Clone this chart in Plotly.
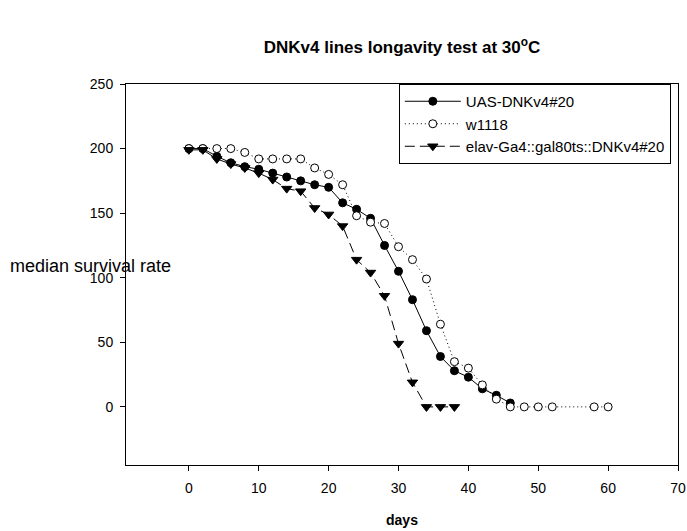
import plotly.graph_objects as go

# Data
days_uas = [0, 2, 4, 6, 8, 10, 12, 14, 16, 18, 20, 22, 24, 26, 28, 30, 32, 34, 36, 38, 40, 42, 44, 46]
uas = [200, 200, 194, 189, 186, 184, 181, 178, 175, 172, 170, 158, 153, 146, 125, 105, 83, 59, 39, 28, 23, 14, 9, 3]

days_w = [0, 2, 4, 6, 8, 10, 12, 14, 16, 18, 20, 22, 24, 26, 28, 30, 32, 34, 36, 38, 40, 42, 44, 46, 48, 50, 52, 58, 60]
w1118 = [200, 200, 200, 200, 197, 192, 192, 192, 192, 185, 180, 172, 148, 143, 142, 124, 114, 99, 64, 35, 30, 17, 6, 0, 0, 0, 0, 0, 0]

days_elav = [0, 2, 4, 6, 8, 10, 12, 14, 16, 18, 20, 22, 24, 26, 28, 30, 32, 34, 36, 38]
elav = [199, 199, 192, 188, 185, 181, 176, 169, 167, 154, 149, 140, 114, 104, 86, 49, 19, 0, 0, 0]

names = ["UAS-DNKv4#20", "w1118", "elav-Ga4::gal80ts::DNKv4#20"]
x_ticks = [0, 10, 20, 30, 40, 50, 60, 70]
y_ticks = [0, 50, 100, 150, 200, 250]

FONT = "Arial, Liberation Sans, sans-serif"

fig = go.Figure()
fig.add_trace(go.Scatter(
    x=days_uas, y=uas, name=names[0], mode="lines+markers",
    line=dict(color="black", width=1, dash="solid"),
    marker=dict(symbol="circle", size=8, color="black", line=dict(color="black", width=1)),
))
fig.add_trace(go.Scatter(
    x=days_w, y=w1118, name=names[1], mode="lines+markers",
    line=dict(color="black", width=1, dash="1px,3px"),
    marker=dict(symbol="circle", size=8, color="white", line=dict(color="black", width=1)),
))
fig.add_trace(go.Scatter(
    x=days_elav, y=elav, name=names[2], mode="lines+markers",
    line=dict(color="black", width=1, dash="10px,5px"),
    marker=dict(symbol="triangle-down", size=9, color="black", line=dict(color="black", width=1)),
))

fig.update_layout(
    width=687, height=531,
    margin=dict(l=126, r=9, t=84, b=66, autoexpand=False),
    paper_bgcolor="white", plot_bgcolor="white",
    font=dict(family=FONT, color="black", size=13),
    title=dict(text="<b>DNKv4 lines longavity test at 30<sup>o</sup>C</b>",
               x=0.5, xref="paper", xanchor="center", y=1 - 47 / 531, yanchor="middle",
               font=dict(size=17, family=FONT, color="black")),
    showlegend=True,
    legend=dict(x=0.987, xanchor="right", y=1, yanchor="top",
                bgcolor="white", bordercolor="black", borderwidth=1,
                font=dict(size=15, family=FONT, color="black"),
                tracegroupgap=0, itemwidth=56),
    xaxis=dict(range=[-9, 70], tickvals=x_ticks, ticks="outside", ticklen=5,
               tickcolor="black", showline=True, linecolor="black", linewidth=1,
               mirror=True, showgrid=False, zeroline=False, automargin=False,
               tickfont=dict(size=14, family=FONT), ticklabelstandoff=5,
               title=dict(text="<b>days</b>", font=dict(size=14, family=FONT), standoff=20)),
    yaxis=dict(range=[-45, 250], tickvals=y_ticks, ticks="outside", ticklen=5,
               tickcolor="black", showline=True, linecolor="black", linewidth=1,
               mirror=True, showgrid=False, zeroline=False, automargin=False,
               tickfont=dict(size=14, family=FONT), ticklabelstandoff=4),
    annotations=[dict(text="median survival rate", xref="paper", yref="paper",
                      x=-0.213, y=0.522, xanchor="left", yanchor="middle",
                      showarrow=False, font=dict(size=18, family=FONT, color="black"))],
)

fig.write_html("out.html", config={"displayModeBar": False},
               post_script="document.body.style.margin='0';")
